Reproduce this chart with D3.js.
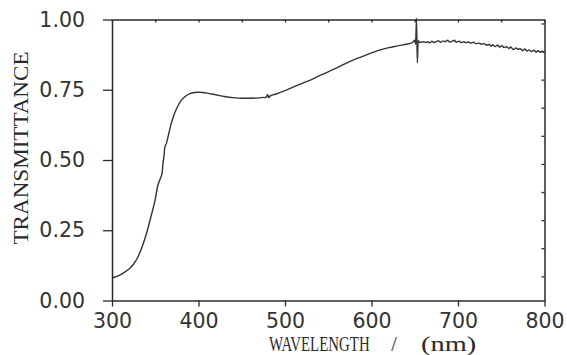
<!DOCTYPE html>
<html>
<head>
<meta charset="utf-8">
<script src="https://cdn.jsdelivr.net/npm/d3@7"></script>
<style>
  html, body { margin: 0; padding: 0; background: #fff; }
  svg { display: block; }
</style>
</head>
<body>
<svg id="chart" width="567" height="355"></svg>
<script>
// ---- data ----
const wavelength = [
  300, 305, 310, 315, 320, 325, 330, 335, 340, 345, 350, 353, 356, 358, 359, 360, 361, 363, 365, 368,
  371, 375, 380, 385, 390, 395, 400, 405, 410, 420, 430, 440, 450, 460, 470, 476, 478, 480, 481, 483,
  490, 500, 510, 520, 530, 540, 550, 560, 570, 580, 590, 600, 610, 620, 630, 640, 645, 648, 650, 651,
  652, 653, 654, 656, 660, 663, 665, 667, 670, 672, 675, 677, 680, 683, 685, 688, 690, 693, 696, 698,
  701, 704, 707, 709, 712, 715, 718, 721, 724, 727, 730, 733, 736, 738, 740, 743, 746, 748, 751, 753,
  756, 759, 761, 764, 767, 769, 772, 775, 777, 780, 782, 785, 788, 790, 793, 795, 797, 800
];
const transmittance = [
  0.080, 0.085, 0.092, 0.102, 0.113, 0.130, 0.155, 0.192, 0.240, 0.298, 0.360, 0.410, 0.435, 0.455, 0.490, 0.510, 0.545, 0.560, 0.585, 0.625,
  0.655, 0.685, 0.712, 0.727, 0.736, 0.740, 0.741, 0.740, 0.738, 0.732, 0.726, 0.722, 0.720, 0.720, 0.721, 0.723, 0.722, 0.733, 0.722, 0.728,
  0.735, 0.747, 0.760, 0.773, 0.785, 0.800, 0.814, 0.828, 0.843, 0.857, 0.869, 0.881, 0.892, 0.900, 0.906, 0.912, 0.915, 0.920, 0.926, 0.912,
  1.005, 0.846, 0.925, 0.918, 0.921, 0.918, 0.921, 0.917, 0.923, 0.918, 0.921, 0.925, 0.919, 0.924, 0.921, 0.926, 0.920, 0.922, 0.926, 0.919,
  0.923, 0.918, 0.921, 0.917, 0.920, 0.916, 0.919, 0.914, 0.916, 0.912, 0.914, 0.909, 0.911, 0.905, 0.910, 0.904, 0.909, 0.902, 0.907, 0.900,
  0.903, 0.897, 0.902, 0.893, 0.899, 0.894, 0.896, 0.889, 0.895, 0.888, 0.892, 0.886, 0.891, 0.884, 0.889, 0.883, 0.887, 0.884
];
const xTickValues = [300, 400, 500, 600, 700, 800];
const xMinorTickValues = [300, 350, 400, 450, 500, 550, 600, 650, 700, 750, 800];
const yTickValues = [0.00, 0.25, 0.50, 0.75, 1.00];
const yRightTickValues = [0.086, 0.186, 0.286, 0.386, 0.486, 0.586, 0.686, 0.786, 0.886, 0.986];
const xTitle = ["WAVELENGTH", "/", "(nm)"];
const yTitle = "TRANSMITTANCE";

// ---- layout ----
const W = 567, H = 355;
const mLeft = 112, mRight = 544.5, mTop = 19.5, mBottom = 300.5;
const ink = "#2a2a2a";

const svg = d3.select("#chart");
svg.append("rect").attr("width", W).attr("height", H).attr("fill", "#fff");

const x = d3.scaleLinear().domain([300, 800]).range([mLeft, mRight]);
const y = d3.scaleLinear().domain([0, 1]).range([mBottom, mTop]);

const numFont = "'DejaVu Sans', sans-serif";
const serif = "'Liberation Serif', 'DejaVu Serif', serif";

function styleAxis(g) {
  g.selectAll("path.domain").attr("stroke", ink).attr("stroke-width", 1.5);
  g.selectAll(".tick line").attr("stroke", ink).attr("stroke-width", 1.3);
  g.selectAll(".tick text").attr("fill", "#333").attr("font-family", numFont).attr("font-size", 20.5);
}

// bottom axis
const gx = svg.append("g").attr("transform", `translate(0,${mBottom})`)
  .call(d3.axisBottom(x).tickValues(xTickValues).tickSize(6).tickSizeOuter(0).tickPadding(7).tickFormat(d3.format("d")));
styleAxis(gx);

// top axis (inward minor ticks, no labels)
const gxt = svg.append("g").attr("transform", `translate(0,${mTop})`)
  .call(d3.axisTop(x).tickValues(xMinorTickValues).tickSize(-3).tickSizeOuter(0).tickFormat(""));
styleAxis(gxt);

// left axis
const gy = svg.append("g").attr("transform", `translate(${mLeft},0)`)
  .call(d3.axisLeft(y).tickValues(yTickValues).tickSize(9).tickSizeOuter(0).tickPadding(18).tickFormat(d3.format(".2f")));
styleAxis(gy);

// right axis (inward ticks, no labels)
const gyr = svg.append("g").attr("transform", `translate(${mRight},0)`)
  .call(d3.axisRight(y).tickValues(yRightTickValues).tickSize(-3).tickSizeOuter(0).tickFormat(""));
styleAxis(gyr);

// curve
const pts = wavelength.map((w, i) => [w, transmittance[i]]);
const line = d3.line().x(d => x(d[0])).y(d => y(d[1])).curve(d3.curveMonotoneX);
svg.append("path")
  .datum(pts)
  .attr("d", line)
  .attr("fill", "none")
  .attr("stroke", "#333")
  .attr("stroke-width", 1.4)
  .attr("stroke-linejoin", "round");

// x title (three pieces, spaced and proportioned as in the reference)
const xTitleG = svg.append("g")
  .attr("fill", ink)
  .attr("font-family", serif)
  .attr("font-size", 20);
xTitleG.append("text").attr("transform", "translate(269,351) scale(0.745,1)").text(xTitle[0]);
xTitleG.append("text").attr("x", 394).attr("y", 351).attr("text-anchor", "middle").text(xTitle[1]);
xTitleG.append("text").attr("transform", "translate(421,351) scale(1.42,1)").text(xTitle[2]);

// y title
svg.append("text")
  .attr("transform", `translate(28,148) rotate(-90)`)
  .attr("text-anchor", "middle")
  .attr("fill", ink)
  .attr("font-family", serif)
  .attr("font-size", 22)
  .attr("textLength", 193)
  .attr("lengthAdjust", "spacingAndGlyphs")
  .text(yTitle);
</script>
</body>
</html>
